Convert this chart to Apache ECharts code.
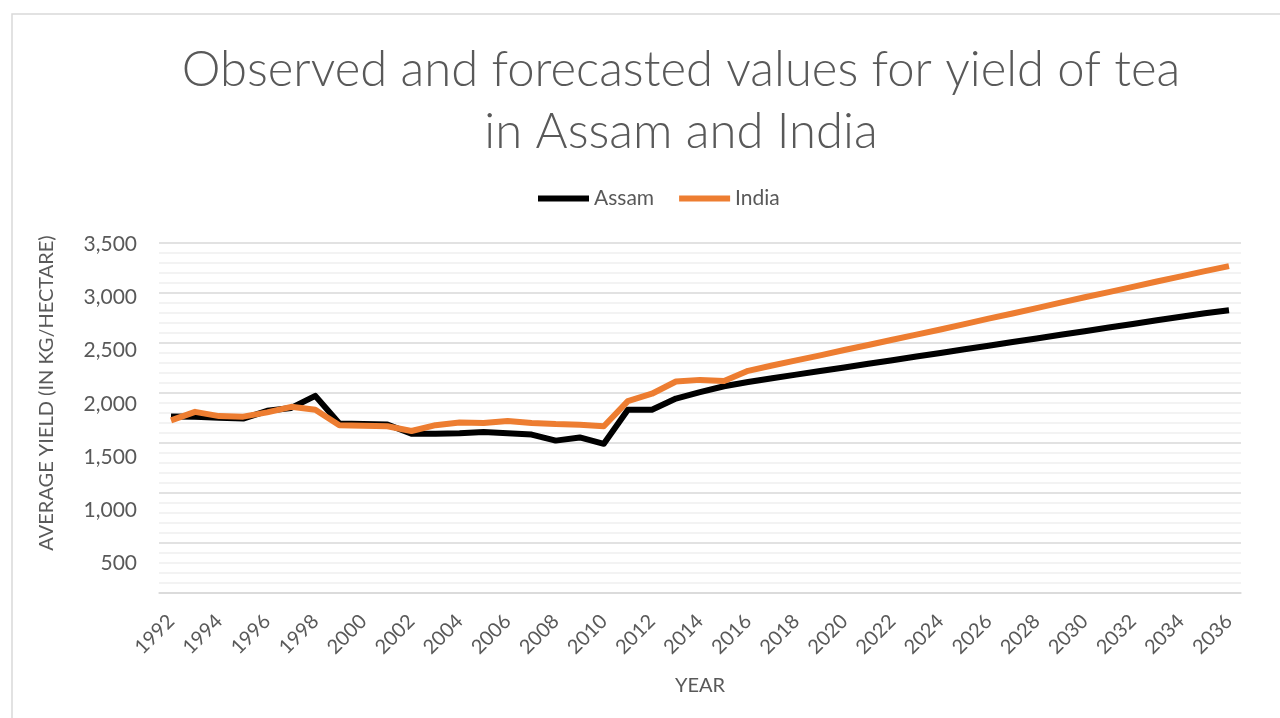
<!DOCTYPE html>
<html>
<head>
<meta charset="utf-8">
<script src="https://cdn.jsdelivr.net/npm/echarts@6/dist/echarts.min.js"></script>
<style>
html,body{margin:0;padding:0;background:#fff;}
#chart{width:1280px;height:718px;}
</style>
</head>
<body>
<div id="chart"></div>
<script>
const years = ['1992','1993','1994','1995','1996','1997','1998','1999','2000','2001','2002','2003','2004','2005','2006','2007','2008','2009','2010','2011','2012','2013','2014','2015','2016','2017','2018','2019','2020','2021','2022','2023','2024','2025','2026','2027','2028','2029','2030','2031','2032','2033','2034','2035','2036'];
const assam = [1882,1880,1870,1862,1935,1962,2075,1815,1810,1806,1720,1720,1725,1735,1725,1712,1655,1685,1625,1945,1945,2050,2110,2165,2205,2240,2274,2308,2342,2376,2410,2444,2478,2512,2546,2580,2614,2648,2682,2716,2750,2784,2818,2850,2878];
const india = [1845,1925,1885,1880,1920,1972,1945,1800,1795,1790,1745,1800,1825,1820,1840,1820,1810,1805,1790,2025,2095,2210,2225,2215,2310,2360,2408,2455,2505,2552,2602,2650,2698,2748,2800,2848,2898,2950,3000,3048,3098,3148,3196,3245,3292];
const yTicks = [500,1000,1500,2000,2500,3000,3500];
const titleText = 'Observed and forecasted values for yield of tea\nin Assam and India';
const yName = 'AVERAGE YIELD (IN KG/HECTARE)';
const xName = 'YEAR';

const FONT = 'Lato';
const GRAY = '#595959';
const chart = echarts.init(document.getElementById('chart'), null, {renderer:'canvas'});
chart.setOption({
  animation:false,
  backgroundColor:'#ffffff',
  textStyle:{fontFamily:FONT},
  title:{
    text:titleText,
    left:676,
    textAlign:'center',
    top:34,
    textStyle:{fontFamily:FONT,fontWeight:300,fontSize:49,lineHeight:62,color:GRAY}
  },
  legend:{
    left:533, top:183,
    itemWidth:51, itemHeight:6, itemGap:25,
    icon:'rect',
    textStyle:{fontFamily:FONT,fontSize:21,color:GRAY},
    data:['Assam','India']
  },
  graphic:[
    {type:'rect', shape:{x:12,y:14,width:1290,height:720}, style:{fill:'none',stroke:'#d9d9d9',lineWidth:1.5}, silent:true, z:-1},
    {type:'text', x:47, y:393, rotation:Math.PI/2, style:{text:yName, align:'center', verticalAlign:'middle', fontFamily:FONT, fontSize:20, fill:GRAY}}
  ],
  grid:[
    {left:159, right:39, top:244, height:373},
    {left:159, right:39, top:243, height:350}
  ],
  xAxis:[
    {type:'category', gridIndex:0, data:years, boundaryGap:true, show:false},
    {type:'category', gridIndex:1, data:years, boundaryGap:true,
     axisLine:{lineStyle:{color:'#d9d9d9',width:1.5}},
     axisTick:{show:false},
     axisLabel:{interval:1, rotate:45, margin:25, fontFamily:FONT, fontSize:20, color:GRAY},
     name:xName, nameLocation:'middle', nameGap:83,
     nameTextStyle:{fontFamily:FONT,fontSize:20,color:GRAY}
    }
  ],
  yAxis:[
    {type:'value', gridIndex:0, min:0, max:3500, interval:500,
     axisLine:{show:false}, axisTick:{show:false}, splitLine:{show:false},
     axisLabel:{margin:22, fontFamily:FONT, fontSize:21, color:GRAY,
       formatter:function(v){ return yTicks.indexOf(v) >= 0 ? v.toLocaleString('en-US') : ''; }}
    },
    {type:'value', gridIndex:1, min:0, max:35, interval:5,
     axisLine:{show:false}, axisTick:{show:false}, axisLabel:{show:false},
     splitLine:{show:true, lineStyle:{color:'#d9d9d9',width:1.5}},
     minorTick:{show:false, splitNumber:5},
     minorSplitLine:{show:true, lineStyle:{color:'#efefef',width:1.5}}
    }
  ],
  series:[
    {name:'Assam', type:'line', xAxisIndex:0, yAxisIndex:0, data:assam, showSymbol:false, symbol:'none',
     itemStyle:{color:'#000000'}, lineStyle:{color:'#000000',width:6,join:'round'}},
    {name:'India', type:'line', xAxisIndex:0, yAxisIndex:0, data:india, showSymbol:false, symbol:'none',
     itemStyle:{color:'#ED7D31'}, lineStyle:{color:'#ED7D31',width:6,join:'round'}}
  ]
});
</script>
</body>
</html>
